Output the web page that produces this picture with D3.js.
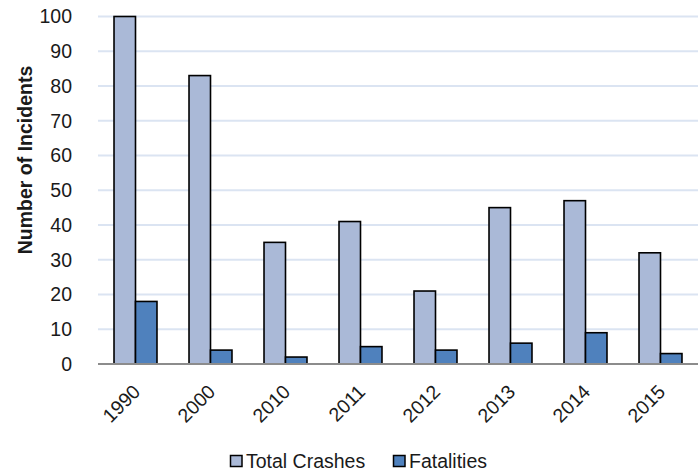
<!DOCTYPE html>
<html>
<head>
<meta charset="utf-8">
<script src="https://cdn.jsdelivr.net/npm/d3@7"></script>
<style>
  html, body { margin: 0; padding: 0; background: #fff; }
  svg { display: block; font-family: "Liberation Sans", Arial, sans-serif; }
</style>
</head>
<body>
<svg id="chart" width="698" height="476"></svg>
<script>
const categories = ["1990", "2000", "2010", "2011", "2012", "2013", "2014", "2015"];
const totalCrashes = [100, 83, 35, 41, 21, 45, 47, 32];
const fatalities = [18, 4, 2, 5, 4, 6, 9, 3];
const seriesNames = ["Total Crashes", "Fatalities"];
const seriesColors = ["#aab9d7", "#4f81bd"];
const yTicks = [0, 10, 20, 30, 40, 50, 60, 70, 80, 90, 100];
const yLabel = "Number of Incidents";

const svg = d3.select("#chart");
const plot = { left: 98, right: 698, top: 16.5, bottom: 364 };

const x0 = d3.scaleBand().domain(categories).range([plot.left, plot.right])
  .paddingInner(0.427).paddingOuter(0.2135);
const x1 = d3.scaleBand().domain(seriesNames).range([0, x0.bandwidth()]);
const y = d3.scaleLinear().domain([0, 100]).range([plot.bottom, plot.top]);

// gridlines
svg.append("g").selectAll("line").data(yTicks.filter(d => d > 0)).join("line")
  .attr("x1", plot.left).attr("x2", plot.right)
  .attr("y1", d => y(d)).attr("y2", d => y(d))
  .attr("stroke", "#dbe4f2").attr("stroke-width", 2);

// y axis (labels only)
const yAxis = svg.append("g").attr("transform", `translate(${plot.left},0)`)
  .call(d3.axisLeft(y).tickValues(yTicks).tickSize(0).tickPadding(26));
yAxis.select(".domain").remove();
yAxis.selectAll("text").attr("font-size", 19.5).attr("fill", "#1a1a1a")
  .attr("font-family", "Liberation Sans, Arial, sans-serif");

// bars
const data = categories.map((c, i) => ({ cat: c, vals: [totalCrashes[i], fatalities[i]] }));
const groups = svg.append("g").selectAll("g").data(data).join("g")
  .attr("transform", d => `translate(${x0(d.cat)},0)`);
groups.selectAll("rect").data(d => d.vals.map((v, j) => ({ v, s: seriesNames[j], j })))
  .join("rect")
  .attr("x", d => x1(d.s))
  .attr("width", x1.bandwidth())
  .attr("y", d => y(d.v))
  .attr("height", d => y(0) - y(d.v))
  .attr("fill", d => seriesColors[d.j])
  .attr("stroke", "#000").attr("stroke-width", 1.6);

// x axis
const xAxis = svg.append("g").attr("transform", `translate(0,${plot.bottom})`)
  .call(d3.axisBottom(x0).tickSize(0).tickPadding(0));
xAxis.select(".domain").remove();
xAxis.append("line").attr("x1", plot.left).attr("x2", plot.right)
  .attr("y1", 0).attr("y2", 0).attr("stroke", "#8c8c8c").attr("stroke-width", 2);
xAxis.selectAll(".tick text")
  .attr("font-size", 19.5).attr("fill", "#1a1a1a")
  .attr("font-family", "Liberation Sans, Arial, sans-serif")
  .attr("text-anchor", "end").attr("dy", null).attr("y", null)
  .attr("transform", "translate(6,29) rotate(-45)");

// y label
svg.append("text")
  .attr("transform", "translate(32,160) rotate(-90)")
  .attr("text-anchor", "middle")
  .attr("font-size", 19.5).attr("font-weight", "bold").attr("fill", "#1a1a1a")
  .text(yLabel);

// legend
const legendX = [230, 393];
const leg = svg.append("g").selectAll("g").data(seriesNames).join("g")
  .attr("transform", (d, i) => `translate(${legendX[i]},455)`);
leg.append("rect").attr("x", 0.5).attr("y", 0.5).attr("width", 11.5).attr("height", 11)
  .attr("fill", (d, i) => seriesColors[i]).attr("stroke", "#000").attr("stroke-width", 1.5);
leg.append("text").attr("x", 16).attr("y", 12.5)
  .attr("font-size", 19.5).attr("fill", "#1a1a1a").text(d => d);
</script>
</body>
</html>
